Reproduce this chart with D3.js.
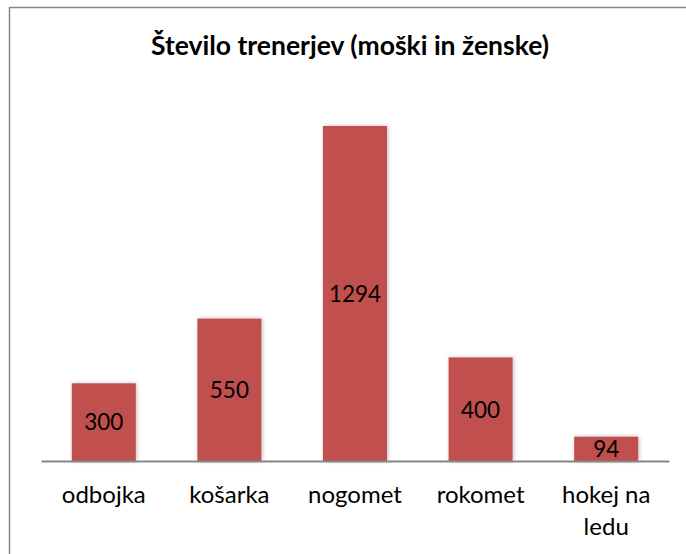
<!DOCTYPE html>
<html><head><meta charset="utf-8">
<script src="https://cdnjs.cloudflare.com/ajax/libs/d3/7.8.5/d3.min.js"></script>
<style>html,body{margin:0;padding:0;background:#fff;} svg{display:block;}</style>
</head><body>
<script>
const categories = ["odbojka", "košarka", "nogomet", "rokomet", "hokej na ledu"];
const values = [300, 550, 1294, 400, 94];
const title = "Število trenerjev (moški in ženske)";

const W = 686, H = 554;
const font = "Lato, 'Open Sans', sans-serif";
const svg = d3.select("body").append("svg").attr("width", W).attr("height", H);

const defs = svg.append("defs");
const f = defs.append("filter").attr("id","sh").attr("x","-20%").attr("y","-20%").attr("width","140%").attr("height","140%");
f.append("feGaussianBlur").attr("in","SourceAlpha").attr("stdDeviation",2);
f.append("feOffset").attr("dx",1).attr("dy",0).attr("result","b");
f.append("feComponentTransfer").append("feFuncA").attr("type","linear").attr("slope",0.25);
const m = f.append("feMerge"); m.append("feMergeNode"); m.append("feMergeNode").attr("in","SourceGraphic");

// chart border
svg.append("rect").attr("x",9.5).attr("y",7.5).attr("width",W).attr("height",H)
  .attr("fill","#fff").attr("stroke","#868686").attr("stroke-width",1.5);

svg.append("text").attr("x",350).attr("y",55).attr("text-anchor","middle")
  .attr("font-family",font).attr("font-weight","bold").attr("font-size",26.5).attr("fill","#000").text(title);

const x = d3.scaleBand().domain(categories).range([41, 669]).paddingInner(0.49).paddingOuter(0.245);
const y = d3.scaleLinear().domain([0, 1400]).range([461, 98.5]);

const g = svg.append("g");
g.selectAll("rect.bar").data(values).join("rect").attr("class","bar")
  .attr("x",(d,i)=>x(categories[i])).attr("width",x.bandwidth())
  .attr("y",d=>y(d)).attr("height",d=>y(0)-y(d))
  .attr("fill","#C0504D").attr("filter","url(#sh)");

g.selectAll("text.val").data(values).join("text").attr("class","val")
  .attr("x",(d,i)=>x(categories[i])+x.bandwidth()/2)
  .attr("y",d=>(y(d)+y(0))/2).attr("dy","0.37em").attr("text-anchor","middle")
  .attr("font-family",font).attr("font-size",22.5).attr("fill","#000").text(d=>d);

const ax = svg.append("g").attr("transform",`translate(0,${y(0)})`)
  .call(d3.axisBottom(x).tickSize(0).tickPadding(0).tickFormat(""));
ax.select(".domain").attr("stroke","#868686").attr("stroke-width",2);

const lab = svg.append("g");
categories.forEach(c=>{
  const words = c.split(" ");
  const lines = words.length>2 ? [words.slice(0,2).join(" "), words.slice(2).join(" ")] : [c];
  const t = lab.append("text").attr("x",x(c)+x.bandwidth()/2).attr("y",503)
    .attr("text-anchor","middle").attr("font-family",font).attr("font-size",24).attr("fill","#000");
  lines.forEach((l,i)=>t.append("tspan").attr("x",x(c)+x.bandwidth()/2).attr("dy",i?32:0).text(l));
});
</script>
</body></html>
